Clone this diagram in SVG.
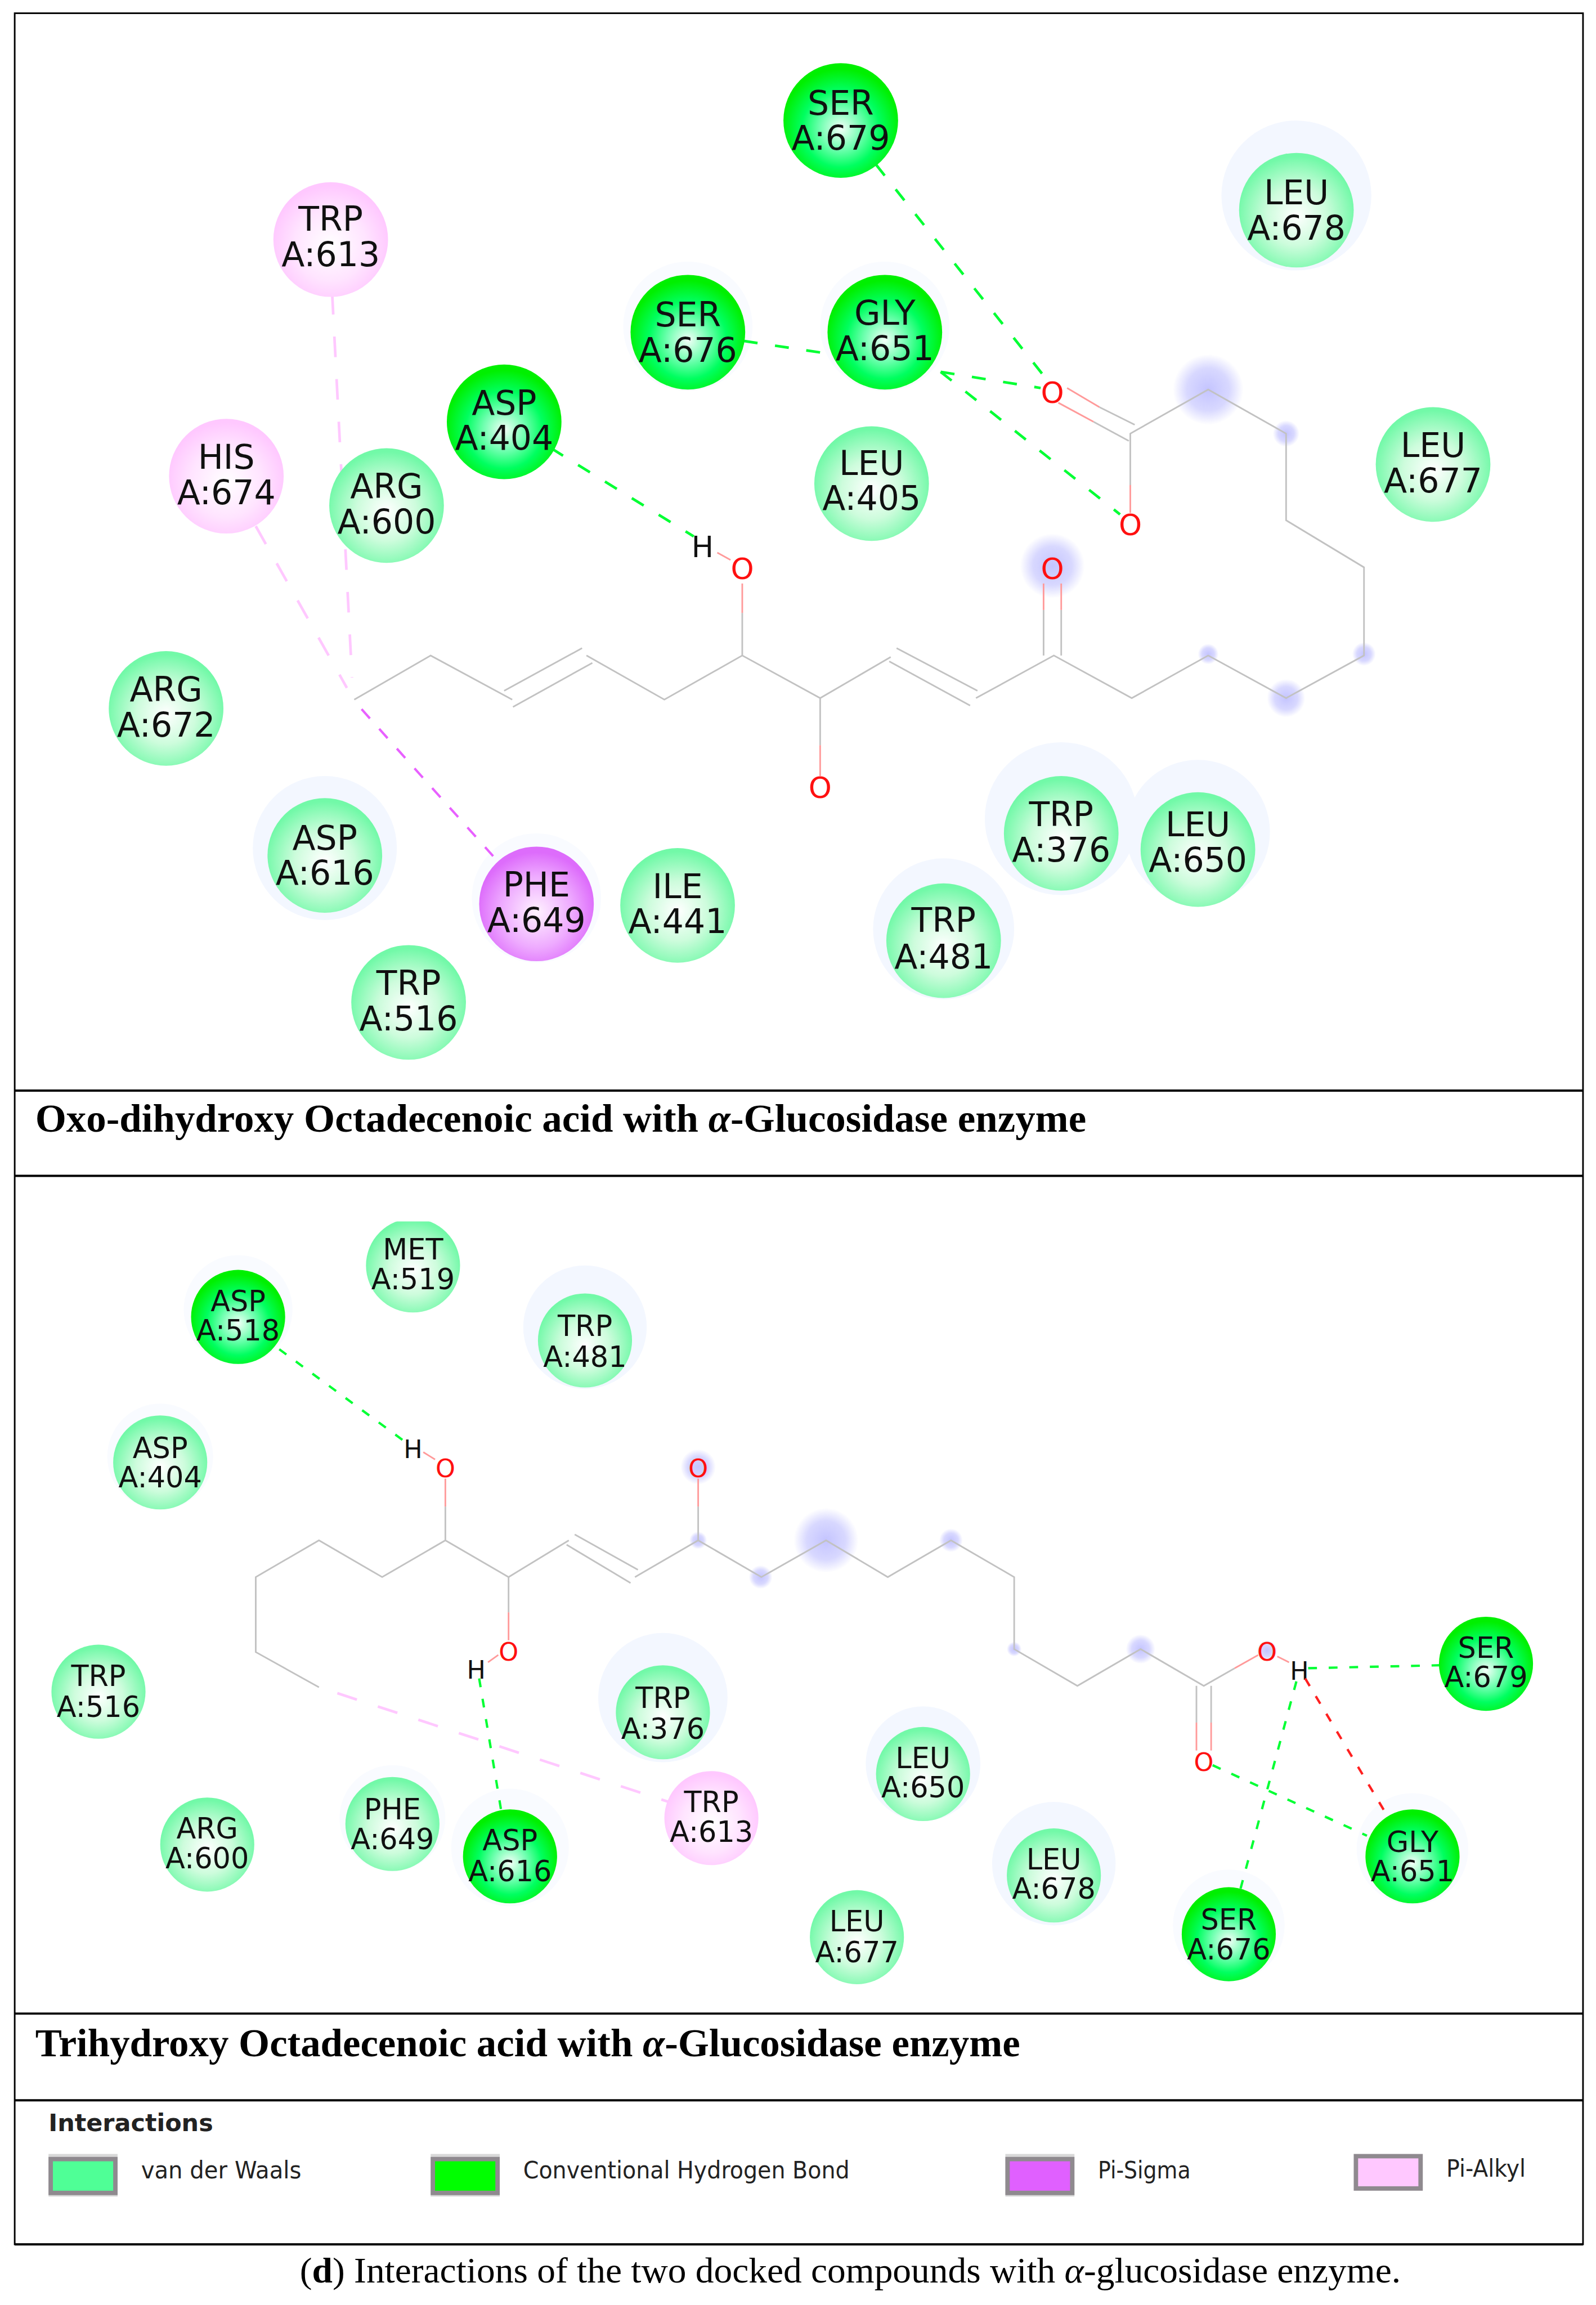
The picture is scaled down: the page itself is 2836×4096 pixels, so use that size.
<svg xmlns="http://www.w3.org/2000/svg" width="2836" height="4096" viewBox="0 0 2836 4096">
<style>
.frame{fill:none;stroke:#000;stroke-width:1.1}
.rule{stroke:#000;stroke-width:1.5}
.b{stroke:#c2c2c2;stroke-width:1.1;fill:none}
.r{stroke:#ff9a9a;stroke-width:1.1;fill:none}
.hb{stroke:#00ff33;stroke-width:1.6;stroke-dasharray:6 8;fill:none}
.hbt{stroke:#00ff33;stroke-width:1.8;stroke-dasharray:9.500 12;fill:none}
.hr{stroke:#ff2020;stroke-width:1.6;stroke-dasharray:6 8;fill:none}
.pa{stroke:#ffc8ff;stroke-width:1.8;stroke-dasharray:14 15;fill:none}
.ps{stroke:#e860ff;stroke-width:1.6;stroke-dasharray:8.500 9.500;fill:none}
.res{font-family:"DejaVu Sans",sans-serif;text-anchor:middle;fill:#101010}
.t{font-size:23px}
.u{font-size:19.5px}
.at{font-family:"DejaVu Sans",sans-serif;text-anchor:middle}
.atT{font-size:20px}
.atB{font-size:17px}
.o{fill:#ff1010}
.h{fill:#111}
.title{font-family:"Liberation Serif",serif;font-weight:700;font-size:27px;fill:#000}
.cap{font-family:"Liberation Serif",serif;font-size:24px;fill:#000}
.leg{font-family:"DejaVu Sans",sans-serif;font-size:16px;fill:#222}
.sw{stroke:#8f8a8f;stroke-width:3}
.swo{fill:#d8d8d8}
.vdw{fill:url(#gV)}.dark{fill:url(#gD)}.pink{fill:url(#gP)}.pur{fill:url(#gS)}
.halo{fill:#f3f7ff}
.halo2{fill:#f9fbff}
</style>
<defs>
<radialGradient id="gV" cx="50%" cy="55%" r="52%"><stop offset="0" stop-color="#ffffff"/><stop offset=".5" stop-color="#cdfcdc"/><stop offset="1" stop-color="#72f9a8"/></radialGradient>
<radialGradient id="gD" cx="50%" cy="57%" r="52%"><stop offset="0" stop-color="#f4fff8"/><stop offset=".35" stop-color="#70ffb0"/><stop offset=".65" stop-color="#00ff60"/><stop offset="1" stop-color="#00f000"/></radialGradient>
<radialGradient id="gP" cx="50%" cy="55%" r="52%"><stop offset="0" stop-color="#ffffff"/><stop offset=".6" stop-color="#ffe4ff"/><stop offset="1" stop-color="#ffc8ff"/></radialGradient>
<radialGradient id="gS" cx="50%" cy="57%" r="52%"><stop offset="0" stop-color="#fff2ff"/><stop offset=".6" stop-color="#eeaaff"/><stop offset="1" stop-color="#dd6cfb"/></radialGradient>
<radialGradient id="gB"><stop offset="0" stop-color="#c4c4ff"/><stop offset=".6" stop-color="#d8d8ff"/><stop offset="1" stop-color="#ffffff"/></radialGradient>
<clipPath id="metClip"><rect x="240" y="831" width="80" height="70"/></clipPath>
</defs>
<rect width="2836" height="4096" fill="#fff"/>
<g transform="scale(2.6118)">
<g id="frame">
<rect class="frame" x="10" y="9" width="1067" height="1518"/>
<line class="rule" x1="10" y1="742" x2="1077" y2="742"/>
<line class="rule" x1="10" y1="800" x2="1077" y2="800"/>
<line class="rule" x1="10" y1="1370" x2="1077" y2="1370"/>
<line class="rule" x1="10" y1="1429" x2="1077" y2="1429"/>
<line class="rule" x1="10" y1="1527" x2="1077" y2="1527"/>
</g>
<g id="halos" class="halo">
<circle cx="882" cy="133" r="51"/><circle cx="722" cy="557" r="52"/><circle cx="815" cy="566" r="49"/><circle cx="642" cy="632" r="48"/><circle cx="221" cy="577" r="49"/>
<circle cx="398" cy="903" r="42"/><circle cx="451" cy="1155" r="44"/><circle cx="628" cy="1200" r="39"/><circle cx="717" cy="1268" r="42"/>
</g>
<g id="halos-faint" class="halo2">
<circle cx="468" cy="222" r="44"/><circle cx="602" cy="222" r="44"/><circle cx="365" cy="611" r="44"/><circle cx="162" cy="891" r="37"/><circle cx="109" cy="991" r="36"/>
<circle cx="267" cy="1237" r="36"/><circle cx="347" cy="1257" r="40"/><circle cx="836" cy="1310" r="38"/><circle cx="961" cy="1258" r="38"/>
</g>
<g id="molecule-top">
<g fill="url(#gB)">
<circle cx="822" cy="265" r="24"/><circle cx="875" cy="295" r="9"/><circle cx="716" cy="385" r="22"/><circle cx="822" cy="445" r="7"/><circle cx="875" cy="475" r="13"/><circle cx="928" cy="445" r="8"/>
</g>
<polyline class="b" points="241,476 293,446 348.500,476"/>
<line class="b" x1="343" y1="470" x2="396" y2="441"/><line class="b" x1="349" y1="481" x2="403" y2="451"/>
<polyline class="b" points="399,446 452,476 505,446 558,475 606,447"/>
<line class="b" x1="610" y1="441" x2="665" y2="470"/><line class="b" x1="605" y1="450" x2="660" y2="480"/>
<polyline class="b" points="664,475 717,446 770,475 822,446 875,475 928,446 928,386 875,354 875,295 822,265 769,295 769,330"/>
<line class="r" x1="769" y1="330" x2="769" y2="349"/>
<line class="b" x1="505" y1="446" x2="505" y2="417"/><line class="r" x1="505" y1="417" x2="505" y2="397"/>
<line class="r" x1="497" y1="381" x2="488" y2="376"/>
<line class="b" x1="710" y1="446" x2="710" y2="415"/><line class="r" x1="710" y1="415" x2="710" y2="397"/>
<line class="b" x1="722" y1="446" x2="722" y2="415"/><line class="r" x1="722" y1="415" x2="722" y2="397"/>
<line class="b" x1="558" y1="475" x2="558" y2="507"/><line class="r" x1="558" y1="507" x2="558" y2="528"/>
<line class="r" x1="726" y1="264" x2="748" y2="277"/><line class="b" x1="748" y1="277" x2="772" y2="289"/>
<line class="r" x1="720" y1="274" x2="744" y2="287"/><line class="b" x1="744" y1="287" x2="768" y2="300"/>
<text class="at atT o" x="716" y="274">O</text>
<text class="at atT o" x="769" y="364">O</text>
<text class="at atT o" x="505" y="394">O</text>
<text class="at atT o" x="716" y="394">O</text>
<text class="at atT o" x="558" y="543">O</text>
<text class="at atT h" x="478" y="379">H</text>
</g>
<g id="molecule-bottom">
<g fill="url(#gB)">
<circle cx="562" cy="1048" r="22"/><circle cx="475" cy="998" r="12"/><circle cx="475" cy="1048" r="6"/><circle cx="517.500" cy="1073" r="8"/><circle cx="647" cy="1048" r="8"/><circle cx="690" cy="1122" r="5"/><circle cx="776" cy="1122" r="10"/><circle cx="862" cy="1123" r="7"/>
</g>
<polyline class="b" points="217,1148 174,1124 174,1073 217,1048 260,1073 303,1048 346,1073 387,1048"/>
<line class="b" x1="391" y1="1044" x2="434" y2="1068"/><line class="b" x1="385.500" y1="1051" x2="429" y2="1077"/>
<polyline class="b" points="432,1073 475,1048 518,1073 562,1048 604,1073 647,1048 690,1073 690,1122 733,1147 776,1122 819,1147 840,1135"/>
<line class="r" x1="840" y1="1135" x2="856" y2="1126"/>
<line class="b" x1="303" y1="1048" x2="303" y2="1025"/><line class="r" x1="303" y1="1025" x2="303" y2="1006"/>
<line class="r" x1="296" y1="993" x2="288" y2="988"/>
<line class="b" x1="346" y1="1073" x2="346" y2="1097"/><line class="r" x1="346" y1="1097" x2="346" y2="1116"/>
<line class="r" x1="339" y1="1126" x2="332" y2="1131"/>
<line class="b" x1="475" y1="1048" x2="475" y2="1025"/><line class="r" x1="475" y1="1025" x2="475" y2="1006"/>
<line class="b" x1="814" y1="1147" x2="814" y2="1172"/><line class="r" x1="814" y1="1172" x2="814" y2="1191"/>
<line class="b" x1="824" y1="1147" x2="824" y2="1172"/><line class="r" x1="824" y1="1172" x2="824" y2="1191"/>
<line class="r" x1="869" y1="1127" x2="877" y2="1131"/>
<text class="at atB o" x="303" y="1005">O</text>
<text class="at atB o" x="346" y="1130">O</text>
<text class="at atB o" x="475" y="1005">O</text>
<text class="at atB o" x="819" y="1205">O</text>
<text class="at atB o" x="862" y="1130">O</text>
<text class="at atB h" x="281" y="992">H</text>
<text class="at atB h" x="324" y="1142">H</text>
<text class="at atB h" x="884" y="1143">H</text>
</g>
<g id="connectors">
<line class="hbt" x1="596" y1="112" x2="712" y2="258"/>
<line class="hbt" x1="640" y1="253" x2="708" y2="264"/>
<line class="hbt" x1="640" y1="253" x2="762" y2="350"/>
<line class="hbt" x1="506" y1="232" x2="566" y2="241"/>
<line class="hbt" x1="375" y1="305" x2="472" y2="365"/>
<line class="pa" x1="226" y1="200" x2="239.500" y2="461"/>
<line class="pa" x1="174" y1="358" x2="236" y2="468"/>
<line class="ps" x1="246" y1="482.500" x2="335.500" y2="582.500"/>
<line class="hb" x1="190" y1="918" x2="277" y2="982"/>
<line class="hb" x1="326" y1="1142" x2="341" y2="1232"/>
<line class="pa" x1="229.500" y1="1152" x2="455" y2="1226"/>
<line class="hb" x1="890" y1="1135" x2="980" y2="1133"/>
<line class="hr" x1="888" y1="1142" x2="943" y2="1234"/>
<line class="hb" x1="882" y1="1144" x2="844" y2="1285"/>
<line class="hb" x1="825" y1="1201" x2="930" y2="1249"/>
</g>
<g id="n-ser679t"><circle class="dark" cx="572" cy="82" r="39"/><text class="res t"><tspan x="572" y="78">SER</tspan><tspan x="572" y="102">A:679</tspan></text></g>
<g id="n-leu678t"><circle class="vdw" cx="882" cy="143" r="39"/><text class="res t"><tspan x="882" y="139">LEU</tspan><tspan x="882" y="163">A:678</tspan></text></g>
<g id="n-trp613t"><circle class="pink" cx="225" cy="163" r="39"/><text class="res t"><tspan x="225" y="157">TRP</tspan><tspan x="225" y="181">A:613</tspan></text></g>
<g id="n-ser676t"><circle class="dark" cx="468" cy="226" r="39"/><text class="res t"><tspan x="468" y="222">SER</tspan><tspan x="468" y="246">A:676</tspan></text></g>
<g id="n-gly651t"><circle class="dark" cx="602" cy="226" r="39"/><text class="res t"><tspan x="602" y="221">GLY</tspan><tspan x="602" y="245">A:651</tspan></text></g>
<g id="n-asp404t"><circle class="dark" cx="343" cy="287" r="39"/><text class="res t"><tspan x="343" y="282">ASP</tspan><tspan x="343" y="306">A:404</tspan></text></g>
<g id="n-his674t"><circle class="pink" cx="154" cy="324" r="39"/><text class="res t"><tspan x="154" y="319">HIS</tspan><tspan x="154" y="343">A:674</tspan></text></g>
<g id="n-arg600t"><circle class="vdw" cx="263" cy="344" r="39"/><text class="res t"><tspan x="263" y="339">ARG</tspan><tspan x="263" y="363">A:600</tspan></text></g>
<g id="n-leu405t"><circle class="vdw" cx="593" cy="329" r="39"/><text class="res t"><tspan x="593" y="323">LEU</tspan><tspan x="593" y="347">A:405</tspan></text></g>
<g id="n-leu677t"><circle class="vdw" cx="975" cy="316" r="39"/><text class="res t"><tspan x="975" y="311">LEU</tspan><tspan x="975" y="335">A:677</tspan></text></g>
<g id="n-arg672t"><circle class="vdw" cx="113" cy="482" r="39"/><text class="res t"><tspan x="113" y="477">ARG</tspan><tspan x="113" y="501">A:672</tspan></text></g>
<g id="n-asp616t"><circle class="vdw" cx="221" cy="582" r="39"/><text class="res t"><tspan x="221" y="578">ASP</tspan><tspan x="221" y="602">A:616</tspan></text></g>
<g id="n-phe649t"><circle class="pur" cx="365" cy="615" r="39"/><text class="res t"><tspan x="365" y="610">PHE</tspan><tspan x="365" y="634">A:649</tspan></text></g>
<g id="n-ile441t"><circle class="vdw" cx="461" cy="616" r="39"/><text class="res t"><tspan x="461" y="611">ILE</tspan><tspan x="461" y="635">A:441</tspan></text></g>
<g id="n-trp516t"><circle class="vdw" cx="278" cy="682" r="39"/><text class="res t"><tspan x="278" y="677">TRP</tspan><tspan x="278" y="701">A:516</tspan></text></g>
<g id="n-trp376t"><circle class="vdw" cx="722" cy="567" r="39"/><text class="res t"><tspan x="722" y="562">TRP</tspan><tspan x="722" y="586">A:376</tspan></text></g>
<g id="n-leu650t"><circle class="vdw" cx="815" cy="578" r="39"/><text class="res t"><tspan x="815" y="569">LEU</tspan><tspan x="815" y="593">A:650</tspan></text></g>
<g id="n-trp481t"><circle class="vdw" cx="642" cy="640" r="39"/><text class="res t"><tspan x="642" y="634">TRP</tspan><tspan x="642" y="659">A:481</tspan></text></g>
<g id="n-met519b"><circle class="vdw" cx="281" cy="861" r="32" clip-path="url(#metClip)"/><text class="res u"><tspan x="281" y="857">MET</tspan><tspan x="281" y="877">A:519</tspan></text></g>
<g id="n-asp518b"><circle class="dark" cx="162" cy="896" r="32"/><text class="res u"><tspan x="162" y="892">ASP</tspan><tspan x="162" y="912">A:518</tspan></text></g>
<g id="n-trp481b"><circle class="vdw" cx="398" cy="912" r="32"/><text class="res u"><tspan x="398" y="909">TRP</tspan><tspan x="398" y="930">A:481</tspan></text></g>
<g id="n-asp404b"><circle class="vdw" cx="109" cy="995" r="32"/><text class="res u"><tspan x="109" y="992">ASP</tspan><tspan x="109" y="1012">A:404</tspan></text></g>
<g id="n-trp516b"><circle class="vdw" cx="67" cy="1151" r="32"/><text class="res u"><tspan x="67" y="1147">TRP</tspan><tspan x="67" y="1168">A:516</tspan></text></g>
<g id="n-trp376b"><circle class="vdw" cx="451" cy="1165" r="32"/><text class="res u"><tspan x="451" y="1162">TRP</tspan><tspan x="451" y="1183">A:376</tspan></text></g>
<g id="n-leu650b"><circle class="vdw" cx="628" cy="1207" r="32"/><text class="res u"><tspan x="628" y="1203">LEU</tspan><tspan x="628" y="1223">A:650</tspan></text></g>
<g id="n-arg600b"><circle class="vdw" cx="141" cy="1255" r="32"/><text class="res u"><tspan x="141" y="1251">ARG</tspan><tspan x="141" y="1271">A:600</tspan></text></g>
<g id="n-phe649b"><circle class="vdw" cx="267" cy="1241" r="32"/><text class="res u"><tspan x="267" y="1238">PHE</tspan><tspan x="267" y="1258">A:649</tspan></text></g>
<g id="n-asp616b"><circle class="dark" cx="347" cy="1263" r="32"/><text class="res u"><tspan x="347" y="1259">ASP</tspan><tspan x="347" y="1280">A:616</tspan></text></g>
<g id="n-trp613b"><circle class="pink" cx="484" cy="1237" r="32"/><text class="res u"><tspan x="484" y="1233">TRP</tspan><tspan x="484" y="1253">A:613</tspan></text></g>
<g id="n-leu678b"><circle class="vdw" cx="717" cy="1276" r="32"/><text class="res u"><tspan x="717" y="1272">LEU</tspan><tspan x="717" y="1292">A:678</tspan></text></g>
<g id="n-leu677b"><circle class="vdw" cx="583" cy="1318" r="32"/><text class="res u"><tspan x="583" y="1314">LEU</tspan><tspan x="583" y="1335">A:677</tspan></text></g>
<g id="n-ser676b"><circle class="dark" cx="836" cy="1316" r="32"/><text class="res u"><tspan x="836" y="1313">SER</tspan><tspan x="836" y="1333">A:676</tspan></text></g>
<g id="n-gly651b"><circle class="dark" cx="961" cy="1263" r="32"/><text class="res u"><tspan x="961" y="1260">GLY</tspan><tspan x="961" y="1280">A:651</tspan></text></g>
<g id="n-ser679b"><circle class="dark" cx="1011" cy="1132" r="32"/><text class="res u"><tspan x="1011" y="1128">SER</tspan><tspan x="1011" y="1148">A:679</tspan></text></g>
<g id="titles">
<text class="title" x="24" y="770" textLength="715" lengthAdjust="spacingAndGlyphs">Oxo-dihydroxy Octadecenoic acid with <tspan font-style="italic">α</tspan>-Glucosidase enzyme</text>
<text class="title" x="24" y="1399" textLength="670" lengthAdjust="spacingAndGlyphs">Trihydroxy Octadecenoic acid with <tspan font-style="italic">α</tspan>-Glucosidase enzyme</text>
<text class="cap" x="204" y="1553" textLength="749" lengthAdjust="spacingAndGlyphs">(<tspan font-weight="700">d</tspan>) Interactions of the two docked compounds with <tspan font-style="italic">α</tspan>-glucosidase enzyme.</text>
</g>
<g id="legend">
<text class="leg" x="33" y="1450" font-weight="700" textLength="112" lengthAdjust="spacingAndGlyphs">Interactions</text>
<rect class="swo" x="33" y="1465.500" width="47" height="29"/>
<rect class="sw" x="34.500" y="1469" width="44" height="23" fill="#4fff96"/>
<text class="leg" x="96" y="1482" textLength="109" lengthAdjust="spacingAndGlyphs">van der Waals</text>
<rect class="swo" x="293" y="1465.500" width="47" height="29"/>
<rect class="sw" x="294.500" y="1469" width="44" height="23" fill="#00ff00"/>
<text class="leg" x="356" y="1482" textLength="222" lengthAdjust="spacingAndGlyphs">Conventional Hydrogen Bond</text>
<rect class="swo" x="684" y="1465.500" width="47" height="29"/>
<rect class="sw" x="685.500" y="1469" width="44" height="23" fill="#e060ff"/>
<text class="leg" x="747" y="1482" textLength="63" lengthAdjust="spacingAndGlyphs">Pi-Sigma</text>
<rect class="sw" x="922.500" y="1467" width="44" height="22" fill="#ffc8ff"/>
<text class="leg" x="984" y="1481" textLength="54" lengthAdjust="spacingAndGlyphs">Pi-Alkyl</text>
</g>
</g>
</svg>
